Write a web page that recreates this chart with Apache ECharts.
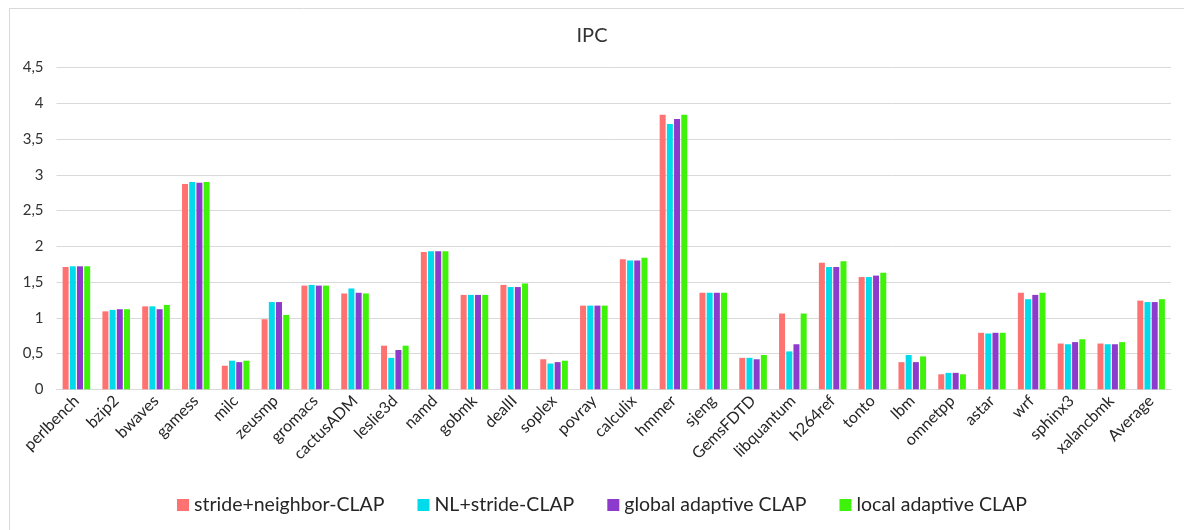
<!DOCTYPE html>
<html>
<head>
<meta charset="utf-8">
<script src="https://cdn.jsdelivr.net/npm/echarts@6/dist/echarts.min.js"></script>
<style>
html,body{margin:0;padding:0;background:#fff;}
#chart{width:1184px;height:530px;}
</style>
</head>
<body>
<div id="chart"></div>
<script>
const categories = ["perlbench","bzip2","bwaves","gamess","milc","zeusmp","gromacs","cactusADM","leslie3d","namd","gobmk","dealII","soplex","povray","calculix","hmmer","sjeng","GemsFDTD","libquantum","h264ref","tonto","lbm","omnetpp","astar","wrf","sphinx3","xalancbmk","Average"];
const seriesNames = ["stride+neighbor-CLAP","NL+stride-CLAP","global adaptive CLAP","local adaptive CLAP"];
const strideNeighbor = [1.71,1.09,1.16,2.87,0.33,0.98,1.45,1.34,0.61,1.92,1.32,1.46,0.42,1.17,1.82,3.84,1.35,0.44,1.06,1.77,1.57,0.38,0.21,0.79,1.35,0.64,0.64,1.24];
const nlStride       = [1.72,1.11,1.16,2.90,0.40,1.22,1.46,1.41,0.44,1.93,1.32,1.43,0.36,1.17,1.80,3.71,1.35,0.44,0.53,1.71,1.57,0.48,0.23,0.78,1.26,0.63,0.63,1.22];
const globalAdaptive = [1.72,1.12,1.12,2.89,0.38,1.22,1.45,1.35,0.55,1.93,1.32,1.43,0.38,1.17,1.80,3.78,1.35,0.42,0.63,1.71,1.59,0.38,0.23,0.79,1.32,0.66,0.63,1.22];
const localAdaptive  = [1.72,1.12,1.18,2.90,0.40,1.04,1.45,1.34,0.61,1.93,1.32,1.48,0.40,1.17,1.84,3.84,1.35,0.48,1.06,1.79,1.63,0.46,0.21,0.79,1.35,0.70,0.66,1.26];
const colors = ["#FF7272","#00DBEB","#8C3BCC","#3FF20A"];
const yTicks = {min:0, max:4.5, interval:0.5};

const chart = echarts.init(document.getElementById('chart'), null, {renderer:'canvas'});
const FONT = 'Lato, "Open Sans", sans-serif';
const dataSets = [strideNeighbor, nlStride, globalAdaptive, localAdaptive];
chart.setOption({
  animation:false,
  backgroundColor:'#fff',
  graphic:[{type:'rect',left:7,top:6,shape:{width:1200,height:600},style:{fill:'none',stroke:'#d9d9d9',lineWidth:1},silent:true}],
  title:{text:'IPC',left:'center',top:21,textStyle:{fontFamily:FONT,fontSize:20,fontWeight:'normal',color:'#333'}},
  legend:{left:177,top:495,padding:0,itemWidth:12,itemHeight:12,itemGap:33,icon:'rect',
    textStyle:{fontFamily:FONT,fontSize:19.5,color:'#262626'},data:seriesNames},
  grid:{left:56.5,right:13,top:67.5,height:321.8,containLabel:false},
  xAxis:{type:'category',data:categories,
    axisLine:{lineStyle:{color:'#d9d9d9',width:1}},axisTick:{show:false},
    axisLabel:{interval:0,rotate:45,fontFamily:FONT,fontSize:16,color:'#262626',margin:9}},
  yAxis:{type:'value',min:yTicks.min,max:yTicks.max,interval:yTicks.interval,
    axisLine:{show:false},axisTick:{show:false},
    splitLine:{lineStyle:{color:'#d9d9d9',width:1}},
    axisLabel:{fontFamily:FONT,fontSize:15,color:'#333',margin:13,
      formatter:v=>String(v).replace('.',',')}},
  series:dataSets.map((d,i)=>({name:seriesNames[i],type:'bar',data:d,barWidth:6,barGap:'20%',
    itemStyle:{color:colors[i]}}))
});
</script>
</body>
</html>
